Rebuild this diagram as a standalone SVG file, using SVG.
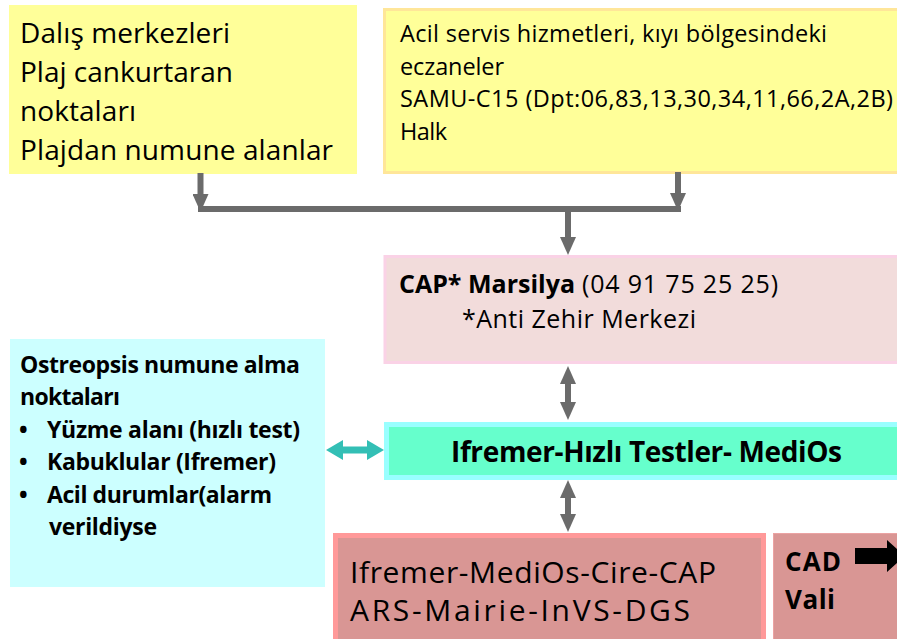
<svg xmlns="http://www.w3.org/2000/svg" width="897" height="639" viewBox="0 0 897 639">
<style>
text { font-family: "Open Sans", "Noto Sans", "Liberation Sans", sans-serif; fill: #000; }
.b { font-weight: bold; }
.yl { font-size: 28px; }
.yr { font-size: 23.5px; }
.cap { font-size: 25px; }
.gr { font-size: 28px; font-weight: bold; }
.cy { font-size: 23px; font-weight: bold; }
.rd { font-size: 30px; }
.cad { font-size: 26px; font-weight: bold; }
.gline { fill: none; stroke: #6B6B6B; stroke-width: 6; }
.tline { fill: none; stroke: #33BFB5; stroke-width: 7; }
</style>
<defs>
<marker id="ga" viewBox="0 0 18 16" markerWidth="18" markerHeight="16" refX="6" refY="8" orient="auto-start-reverse" markerUnits="userSpaceOnUse">
<path d="M0,0 L18,8 L0,16 Z" fill="#6B6B6B"/>
</marker>
<marker id="ta" viewBox="0 0 17 20" markerWidth="17" markerHeight="20" refX="5" refY="10" orient="auto-start-reverse" markerUnits="userSpaceOnUse">
<path d="M0,0 L17,10 L0,20 Z" fill="#33BFB5"/>
</marker>
</defs>

<g id="node-dalis">
<rect x="9" y="5" width="348" height="169" fill="#FFFF99"/>
<text class="yl" x="20" y="43" textLength="210">Dalış merkezleri</text>
<text class="yl" x="20" y="82" textLength="213">Plaj cankurtaran</text>
<text class="yl" x="20" y="121" textLength="116">noktaları</text>
<text class="yl" x="20" y="160" textLength="313">Plajdan numune alanlar</text>
</g>

<g id="node-acil">
<rect x="384.5" y="9.5" width="520" height="163" fill="#FFFF99" stroke="#FFE699" stroke-width="3"/>
<text class="yr" x="400" y="42" textLength="427">Acil servis hizmetleri, kıyı bölgesindeki</text>
<text class="yr" x="400" y="74.5" textLength="104">eczaneler</text>
<text class="yr" x="400" y="107" textLength="493">SAMU-C15 (Dpt:06,83,13,30,34,11,66,2A,2B)</text>
<text class="yr" x="400" y="139.5" textLength="47">Halk</text>
</g>

<g id="node-cap">
<rect x="385" y="256.5" width="520" height="106" fill="#F2DCDB" stroke="#FAD2E6" stroke-width="3"/>
<text class="cap b" x="399" y="293" textLength="176">CAP* Marsilya</text>
<text class="cap" x="582" y="293" textLength="196">(04 91 75 25 25)</text>
<text class="cap" x="462" y="328" textLength="234">*Anti Zehir Merkezi</text>
</g>

<g id="node-ifremer">
<rect x="386.5" y="424.5" width="520" height="53" fill="#66FFCC" stroke="#99FFFF" stroke-width="5"/>
<text class="gr" x="451" y="462" textLength="391">Ifremer-Hızlı Testler- MediOs</text>
</g>

<g id="node-ostreopsis">
<rect x="10" y="339" width="315" height="248" fill="#CCFFFF"/>
<text class="cy" x="20" y="373" textLength="280">Ostreopsis numune alma</text>
<text class="cy" x="20" y="405" textLength="100">noktaları</text>
<text class="cy" x="19" y="437.5">•</text>
<text class="cy" x="47" y="437.5" textLength="253">Yüzme alanı (hızlı test)</text>
<text class="cy" x="19" y="470">•</text>
<text class="cy" x="47" y="470" textLength="229">Kabuklular (Ifremer)</text>
<text class="cy" x="19" y="502.5">•</text>
<text class="cy" x="47" y="502.5" textLength="225">Acil durumlar(alarm</text>
<text class="cy" x="49" y="535" textLength="108">verildiyse</text>
</g>

<g id="node-kurumlar">
<rect x="335.5" y="535.5" width="428" height="112" fill="#D99694" stroke="#FF9999" stroke-width="5"/>
<text class="rd" x="350" y="583" textLength="366">Ifremer-MediOs-Cire-CAP</text>
<text class="rd" x="350" y="621" textLength="340">ARS-Mairie-InVS-DGS</text>
</g>

<g id="node-cad">
<rect x="773.5" y="533.5" width="140" height="120" fill="#D99694" stroke="#EBA3A3" stroke-width="1"/>
<text class="cad" x="785" y="571" textLength="56">CAD</text>
<text class="cad" x="785" y="609" textLength="50">Vali</text>
<path d="M855,548 H887 V540 L905,556 L887,572 V564 H855 Z" fill="#000"/>
</g>

<g id="connectors">
<path class="gline" d="M200.5,173 V200" marker-end="url(#ga)"/>
<path class="gline" d="M678,172 V199" marker-end="url(#ga)"/>
<path class="gline" d="M198,209 H681"/>
<path class="gline" d="M568,209 V243" marker-end="url(#ga)"/>
<path class="gline" d="M568,378 V408" marker-start="url(#ga)" marker-end="url(#ga)"/>
<path class="gline" d="M568,492 V520" marker-start="url(#ga)" marker-end="url(#ga)"/>
<path class="tline" d="M338,450 H372" marker-start="url(#ta)" marker-end="url(#ta)"/>
</g>
</svg>
